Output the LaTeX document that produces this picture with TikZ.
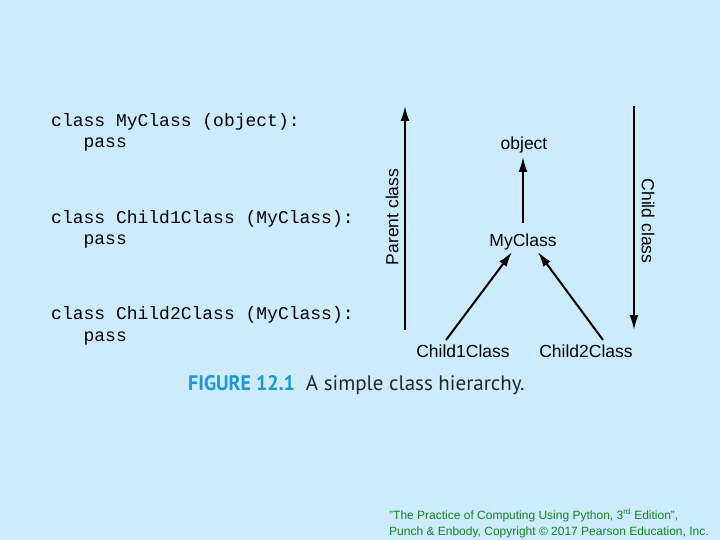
\documentclass[tikz,border=0pt]{standalone}
\usepackage{fontspec}
\usepackage{graphicx}
\setmainfont{Liberation Sans}
\newfontfamily\codefont{Liberation Mono}
\newfontfamily\capfont{PT Sans}
\usetikzlibrary{arrows.meta}
\definecolor{bgblue}{RGB}{204,236,253}
\definecolor{capblue}{RGB}{26,152,212}
\definecolor{notegreen}{RGB}{22,128,30}
\tikzset{
  code/.style={anchor=base west, inner sep=0pt, font=\codefont\fontsize{18}{20}\selectfont},
  cls/.style={anchor=base, inner sep=0pt, font=\fontsize{17.5}{20}\selectfont},
  link/.style={line width=2pt, -{Latex[length=15pt,width=9pt]}},
  note/.style={anchor=base west, inner sep=0pt, text=notegreen, font=\fontsize{12}{14}\selectfont},
}
\begin{document}
\begin{tikzpicture}[x=1pt,y=-1pt]
  \fill[bgblue] (0,0) rectangle (720,540);
  \useasboundingbox (0,0) rectangle (720,540);

  % Python source
  \node[code] (l1) at (51,127) {class MyClass (object):};
  \node[code] (l2) at (51,148) {\ \ \ pass};
  \node[code] (l3) at (51,223) {class Child1Class (MyClass):};
  \node[code] (l4) at (51,244) {\ \ \ pass};
  \node[code] (l5) at (51,319) {class Child2Class (MyClass):};
  \node[code] (l6) at (51,341) {\ \ \ pass};

  % hierarchy
  \node[cls] (ob) at (524,150) {object};
  \node[cls] (my) at (523,246) {MyClass};
  \node[cls] (c1) at (463,357) {Child1Class};
  \node[cls] (c2) at (586,357) {Child2Class};

  \coordinate (obtip) at (523,157);
  \coordinate (mytail) at (523,223);
  \coordinate (myl) at (512,252);
  \coordinate (myr) at (538,252);
  \coordinate (c1tail) at (446,340);
  \coordinate (c2tail) at (603,340);
  \draw[link] (mytail) -- (obtip);
  \draw[link] (c1tail) -- (myl);
  \draw[link] (c2tail) -- (myr);

  % direction arrows
  \coordinate (pbot) at (405,330);
  \coordinate (ptop) at (405,106);
  \coordinate (ctop) at (634,106);
  \coordinate (cbot) at (634,330);
  \draw[link] (pbot) -- (ptop);
  \draw[link] (ctop) -- (cbot);
  \node[inner sep=0pt, rotate=90, font=\fontsize{17.5}{20}\selectfont] (pc) at (392,217) {Parent class};
  \node[inner sep=0pt, rotate=-90, font=\fontsize{17.5}{20}\selectfont] (cc) at (648,221) {Child class};

  % caption
  \node[anchor=base west, inner sep=0pt, font=\capfont\fontsize{21}{23}\selectfont] (cap) at (188,390)
    {\scalebox{0.95}[1]{\textcolor{capblue}{\bfseries FIGURE 12.1}}\hspace{11pt}\textcolor{black!85}{A simple class hierarchy.}};

  % credit
  \node[note] (n1) at (389,519) {"The Practice of Computing Using Python, 3\textsuperscript{rd} Edition",};
  \node[note] (n2) at (389,535) {Punch \& Enbody, Copyright © 2017 Pearson Education, Inc.};
\end{tikzpicture}
\end{document}
